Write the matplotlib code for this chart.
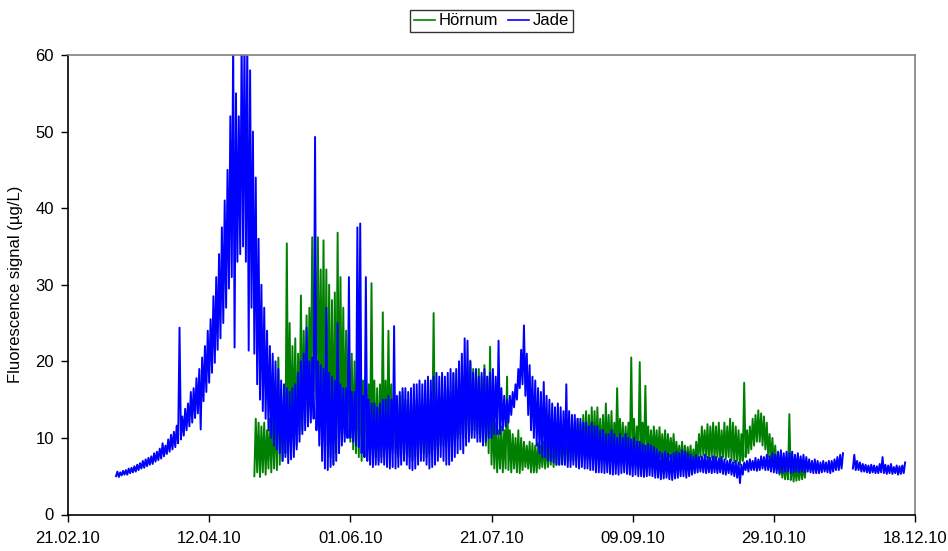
import numpy as np
import matplotlib
matplotlib.use("Agg")
import matplotlib.pyplot as plt
import matplotlib.dates as mdates

plt.rcParams['font.family'] = ['Liberation Sans', 'DejaVu Sans']

nan = float('nan')

# ---- data: daily low / high readings (days since 21.02.2010) ----
jade_start_day = 17
jade_low = [
    5.0, 4.9, 5.1, 5.2, 5.2, 5.4, 5.5, 5.6, 5.8, 6.0,            # 17-26
    6.1, 6.3, 6.5, 6.6, 6.9, 7.1, 7.3, 7.6, 7.9, 8.2,            # 27-36
    8.5, 8.8, 9.3, 9.8, 10.3, 11.0, 11.5, 12.0, 12.6, 13.2,      # 37-46
    11.1, 14.8, 16.0, 17.2, 18.5, 19.8, 21.5, 23.0, 25.0, 27.0,  # 47-56
    29.5, 31.0, 21.8, 33.0, 34.0, 35.0, 33.0, 21.4, 27.0, 21.0,  # 57-66
    17.0, 15.0, 13.5, 12.5, 11.0, 10.0, 9.0, 8.5, 8.0, 7.0,      # 67-76
    7.5, 6.7, 7.2, 7.5, 8.5, 9.5, 10.5, 11.0, 11.5, 12.0,        # 77-86
    12.5, 11.0, 9.0, 7.0, 6.0, 5.8, 6.2, 6.5, 7.0, 8.0,          # 87-96
    9.0, 9.5, 10.0, 10.0, 9.5, 9.0, 8.8, 8.0, 7.5, 7.0,          # 97-106
    6.5, 6.2, 6.5, 6.5, 6.8, 6.5, 6.2, 6.0, 6.2, 6.0,            # 107-116
    6.2, 6.5, 7.0, 6.5, 6.0, 5.8, 6.0, 6.5, 7.0, 7.0,            # 117-126
    6.5, 6.0, 6.2, 6.5, 7.0, 7.5, 7.0, 6.5, 6.5, 7.0,            # 127-136
    7.5, 8.0, 8.5, 8.0, 9.0, 9.5, 10.0, 10.0, 9.5, 9.5,          # 137-146
    9.0, 9.5, 10.0, 10.0, 10.5, 10.5, 10.5, 11.0, 11.5, 12.0,    # 147-156
    13.0, 14.0, 15.0, 16.5, 17.0, 15.5, 13.0, 11.0, 10.0, 9.0,   # 157-166
    8.0, 7.5, 7.5, 7.0, 7.0, 6.8, 6.5, 6.5, 6.5, 6.5,            # 167-176
    6.2, 6.2, 6.5, 6.2, 6.0, 6.2, 6.0, 6.0, 5.8, 5.8,            # 177-186
    5.5, 5.5, 5.5, 5.4, 5.5, 5.3, 5.2, 5.3, 5.2, 5.4,            # 187-196
    5.5, 5.3, 5.2, 5.0, 5.2, 5.0, 5.0, 4.9, 5.0, 5.1,            # 197-206
    5.0, 4.8, 4.8, 4.6, 4.7, 4.8, 4.6, 4.5, 4.7, 4.8,            # 207-216
    5.0, 5.0, 4.8, 5.0, 5.2, 5.4, 5.5, 5.6, 5.5, 5.4,            # 217-226
    5.5, 5.4, 5.5, 5.4, 5.5, 5.3, 5.2, 5.4, 5.2, 5.0,            # 227-236
    4.8, 4.1, 5.2, 5.8, 5.6, 5.8, 5.8, 5.7, 5.8, 6.0,            # 237-246
    5.8, 5.8, 5.6, 5.5, 5.4, 5.4, 5.5, 5.6, 5.6, 5.4,            # 247-256
    5.5, 5.6, 5.5, 5.6, 5.5, 5.6, 5.5, 5.4, 5.4, 5.4,            # 257-266
    5.5, 5.6, 5.5, 5.4, 5.6, 5.8, 5.8, 6.0, nan, nan,            # 267-276
    nan, 6.0, 5.8, 5.8, 5.6, 5.6, 5.5, 5.4, 5.5, 5.4,            # 277-286
    5.4, 5.5, 5.4, 5.3, 5.4, 5.3, 5.4, 5.2, 5.3, 5.4,            # 287-296
]
jade_high = [
    5.6, 5.5, 5.7, 5.8, 6.0, 6.1, 6.3, 6.5, 6.7, 7.0,            # 17-26
    7.2, 7.4, 7.6, 8.0, 8.2, 8.6, 9.3, 9.0, 9.8, 10.4,           # 27-36
    10.8, 11.6, 24.4, 12.8, 13.8, 14.5, 16.0, 16.5, 17.8, 19.0,  # 37-46
    20.5, 22.0, 24.0, 25.5, 28.5, 31.0, 34.0, 37.5, 41.0, 45.0,  # 47-56
    52.0, 62.0, 55.0, 52.0, 62.0, 62.0, 62.0, 58.0, 50.0, 44.0,  # 57-66
    36.0, 30.0, 27.0, 24.0, 22.0, 21.0, 20.0, 19.0, 17.5, 17.0,  # 67-76
    16.5, 16.0, 16.5, 17.0, 18.5, 20.0, 21.0, 24.4, 20.0, 20.5,  # 77-86
    49.3, 20.0, 19.5, 19.0, 27.0, 18.5, 18.0, 17.5, 25.0, 17.0,  # 87-96
    16.5, 16.5, 31.0, 16.0, 16.0, 37.5, 38.0, 15.5, 31.0, 15.0,  # 97-106
    14.5, 14.5, 14.0, 14.5, 15.0, 15.0, 15.5, 15.0, 24.6, 15.5,  # 107-116
    16.0, 16.5, 16.5, 16.0, 16.5, 17.0, 17.0, 17.5, 17.0, 17.5,  # 117-126
    18.0, 17.5, 18.0, 18.5, 18.0, 18.5, 18.0, 18.5, 19.0, 18.5,  # 127-136
    19.0, 20.0, 21.0, 23.0, 22.7, 20.0, 18.5, 19.0, 18.0, 18.5,  # 137-146
    19.0, 18.0, 18.5, 19.0, 18.0, 22.7, 16.5, 15.5, 15.0, 15.5,  # 147-156
    16.0, 17.0, 19.0, 21.5, 24.7, 21.0, 19.5, 18.0, 17.5, 16.5,  # 157-166
    16.0, 17.3, 15.5, 15.0, 14.5, 14.0, 14.5, 14.0, 13.5, 17.0,  # 167-176
    13.5, 13.0, 13.0, 12.5, 12.5, 12.0, 12.0, 11.5, 12.0, 11.5,  # 177-186
    11.5, 11.0, 11.0, 10.5, 10.5, 11.0, 10.5, 10.0, 10.5, 10.0,  # 187-196
    10.5, 10.0, 9.8, 10.0, 9.5, 9.5, 9.2, 9.0, 9.2, 9.0,         # 197-206
    8.8, 8.5, 8.2, 8.0, 8.2, 8.0, 7.8, 8.0, 8.2, 8.0,            # 207-216
    8.4, 8.2, 8.0, 7.8, 7.5, 7.8, 7.5, 7.6, 7.8, 7.5,            # 217-226
    7.4, 7.6, 7.5, 7.3, 7.5, 7.2, 7.0, 7.2, 6.8, 7.0,            # 227-236
    6.8, 6.5, 6.8, 7.0, 7.2, 7.0, 7.4, 7.2, 7.6, 7.5,            # 237-246
    7.8, 7.6, 8.0, 7.8, 8.2, 8.4, 8.0, 8.2, 8.0, 8.2,            # 247-256
    7.8, 8.0, 7.6, 7.8, 7.5, 7.2, 7.0, 7.2, 7.0, 6.8,            # 257-266
    7.0, 6.8, 7.0, 7.0, 7.2, 7.5, 7.8, 8.0, nan, nan,            # 267-276
    nan, 7.8, 7.0, 6.8, 6.6, 6.5, 6.4, 6.5, 6.4, 6.3,            # 277-286
    6.6, 7.5, 6.5, 6.4, 6.6, 6.2, 6.4, 6.3, 6.4, 6.8,            # 287-296
]

hornum_start_day = 66
hornum_low = [
    5.0, 5.5, 4.9, 5.5, 5.2, 6.0, 5.5, 6.0, 5.8, 6.5,            # 66-75
    7.0, 8.0, 9.0, 10.0, 10.5, 9.0, 10.5, 11.0, 12.0, 13.0,      # 76-85
    14.5, 16.0, 15.0, 14.0, 12.5, 11.0, 9.0, 7.5, 6.5, 8.0,      # 86-95
    9.5, 11.0, 10.5, 10.0, 9.5, 8.5, 8.0, 7.5, 7.0, 7.5,         # 96-105
    8.0, 8.5, 8.0, 7.5, 7.0, 7.5, 8.0, 8.5, 9.0, 8.5,            # 106-115
    8.0, 7.5, 8.0, 8.5, 8.0, 7.5, 7.0, 7.5, 8.0, 8.5,            # 116-125
    8.0, 7.5, 8.0, 8.5, 8.0, 8.5, 9.0, 9.0, 9.5, 9.0,            # 126-135
    9.5, 9.5, 10.0, 10.5, 10.0, 10.5, 11.0, 10.5, 11.0, 10.5,    # 136-145
    10.0, 9.5, 9.0, 8.0, 6.5, 6.0, 5.5, 6.0, 5.5, 6.0,           # 146-155
    5.8, 5.5, 6.0, 5.5, 5.4, 5.8, 6.2, 6.0, 5.5, 5.5,            # 156-165
    5.5, 6.0, 6.2, 6.0, 6.2, 6.5, 6.2, 6.5, 6.5, 6.8,            # 166-175
    6.5, 6.8, 7.0, 7.0, 7.2, 7.0, 7.2, 7.5, 7.2, 7.5,            # 176-185
    7.2, 7.5, 7.8, 7.5, 7.5, 7.8, 7.5, 7.2, 7.5, 7.8,            # 186-195
    7.5, 7.2, 7.5, 7.5, 7.2, 7.0, 7.2, 7.5, 7.2, 7.5,            # 196-205
    7.5, 7.2, 7.5, 7.2, 7.5, 7.2, 7.0, 7.5, 7.2, 7.0,            # 206-215
    6.8, 6.5, 6.2, 6.5, 6.5, 6.2, 6.5, 7.0, 7.5, 7.8,            # 216-225
    7.5, 7.0, 7.5, 7.2, 7.5, 7.0, 7.5, 7.2, 7.5, 7.0,            # 226-235
    6.8, 7.0, 6.5, 7.0, 7.5, 8.0, 8.5, 9.0, 9.5, 9.5,            # 236-245
    9.0, 8.5, 7.5, 7.0, 6.5, 5.8, 5.2, 4.8, 4.6, 4.6,            # 246-255
    4.5, 4.3, 4.4, 4.5, 4.6, 4.8,                                # 256-261
]
hornum_high = [
    12.5, 12.0, 11.5, 12.0, 11.0, 12.5, 13.0, 14.0, 20.5, 15.0,  # 66-75
    16.0, 35.4, 25.0, 22.0, 23.0, 21.0, 28.6, 24.0, 26.0, 27.0,  # 76-85
    36.2, 33.0, 36.2, 32.0, 35.8, 32.0, 30.0, 28.0, 29.0, 36.8,  # 86-95
    31.0, 27.0, 24.0, 22.0, 21.0, 20.0, 19.0, 18.0, 17.5, 18.0,  # 96-105
    17.0, 30.2, 17.5, 16.5, 17.0, 26.4, 17.5, 24.0, 17.0, 16.0,  # 106-115
    15.0, 15.5, 16.0, 15.0, 14.5, 14.0, 14.5, 15.0, 14.0, 13.5,  # 116-125
    14.0, 14.5, 15.0, 26.3, 14.5, 15.0, 15.5, 16.0, 16.5, 16.0,  # 126-135
    18.4, 16.5, 17.0, 17.5, 18.0, 18.5, 20.1, 19.0, 18.5, 19.0,  # 136-145
    18.0, 19.5, 18.0, 21.9, 13.0, 12.0, 11.0, 11.5, 11.0, 18.0,  # 146-155
    11.0, 10.5, 10.0, 11.0, 10.0, 9.5, 9.0, 9.5, 9.3, 9.0,       # 156-165
    9.3, 9.0, 9.5, 9.7, 9.5, 10.0, 10.5, 10.0, 10.5, 11.0,       # 166-175
    10.8, 11.5, 11.0, 12.0, 12.5, 12.0, 13.0, 13.5, 13.0, 14.0,  # 176-185
    13.5, 14.0, 12.5, 13.0, 14.5, 13.0, 13.5, 12.0, 16.5, 12.5,  # 186-195
    12.0, 11.5, 12.0, 20.5, 12.5, 11.5, 19.9, 12.0, 16.8, 11.5,  # 196-205
    11.0, 11.5, 11.0, 11.4, 10.5, 11.0, 10.5, 10.0, 10.5, 9.5,   # 206-215
    9.0, 9.5, 9.0, 8.8, 9.0, 8.5, 9.5, 10.5, 11.5, 11.0,         # 216-225
    11.8, 11.5, 12.0, 11.5, 12.0, 11.0, 12.0, 11.5, 12.5, 12.0,  # 226-235
    11.5, 11.0, 10.5, 17.2, 11.0, 11.5, 12.5, 13.0, 13.6, 13.2,  # 236-245
    12.8, 12.0, 10.5, 10.0, 9.0, 8.0, 7.0, 6.8, 7.0, 13.1,       # 246-255
    6.8, 6.5, 6.4, 6.6, 6.5, 6.8,                                # 256-261
]

start_date = np.datetime64('2010-02-21')
end_date = np.datetime64('2010-12-18')
tick_step_days = 50


def tidal_series(start_day, lows, highs):
    days = start_day + np.arange(len(lows), dtype=float)
    t = np.column_stack([days, days + 0.5]).ravel()
    v = np.column_stack([np.asarray(lows, float), np.asarray(highs, float)]).ravel()
    times = start_date + (t * 24 * 60).astype('timedelta64[m]')
    return times, v


fig = plt.figure(figsize=(9.48, 5.51), dpi=100)
ax = fig.add_axes([68 / 948, 1 - 514.5 / 551, (915 - 68) / 948, (514.5 - 55) / 551])

th, vh = tidal_series(hornum_start_day, hornum_low, hornum_high)
tj, vj = tidal_series(jade_start_day, jade_low, jade_high)
ax.plot(th, vh, color='#008000', lw=1.4, label='Hörnum')
ax.plot(tj, vj, color='#0000FF', lw=1.4, label='Jade')

ax.set_xlim(start_date, end_date)
ax.set_ylim(0, 60)
ax.set_yticks(np.arange(0, 61, 10))
ticks = np.arange(start_date, end_date + np.timedelta64(1, 'D'), np.timedelta64(tick_step_days, 'D'))
ax.set_xticks(ticks)
ax.xaxis.set_major_formatter(mdates.DateFormatter('%d.%m.%y'))

ax.tick_params(axis='both', direction='out', length=5, width=1, labelsize=12, colors='black')
ax.tick_params(axis='x', pad=7)
ax.tick_params(axis='y', pad=5)
for s in ('left', 'bottom'):
    ax.spines[s].set_color('black')
    ax.spines[s].set_linewidth(1.2)
for s in ('top', 'right'):
    ax.spines[s].set_color('#808080')
    ax.spines[s].set_linewidth(1.2)

ax.set_ylabel('Fluorescence signal (µg/L)', fontsize=12, labelpad=9)

leg = ax.legend(loc='lower center', bbox_to_anchor=(0.5, 1.05), ncol=2, frameon=True,
                fancybox=False, edgecolor='black', fontsize=12, handlelength=1.25,
                handletextpad=0.25, columnspacing=0.55, borderpad=0.22, borderaxespad=0)
leg.get_frame().set_linewidth(1.0)
for h in leg.get_lines():
    h.set_linewidth(1.2)

fig.savefig('out.png', dpi=100)
